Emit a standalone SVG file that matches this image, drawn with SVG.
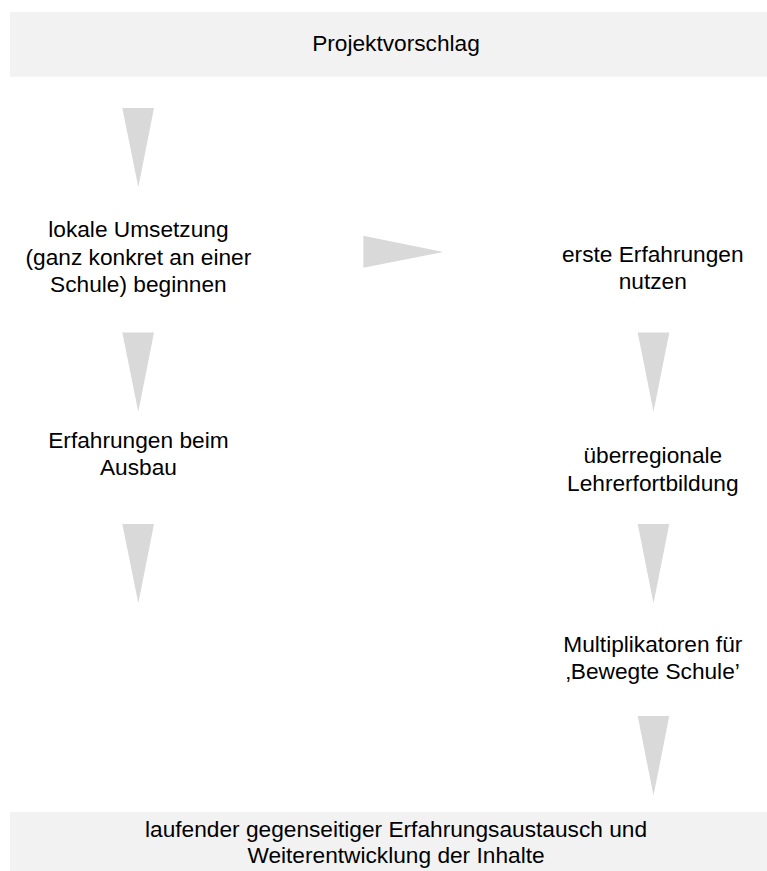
<svg xmlns="http://www.w3.org/2000/svg" width="767" height="871" viewBox="0 0 767 871">
<style>
.bar{fill:#f2f2f2}
.arr{fill:#d9d9d9}
text{font-family:"Liberation Sans",Arial,sans-serif;font-size:22.7px;fill:#000;text-anchor:middle}
</style>
<rect width="767" height="871" fill="#ffffff"/>
<g id="projektvorschlag">
<rect class="bar" x="10" y="12" width="772" height="64.7"/>
<text x="396" y="51">Projektvorschlag</text>
</g>
<g id="lokale-umsetzung">
<text x="138.4" y="237.3">lokale Umsetzung</text>
<text x="138.4" y="264.8">(ganz konkret an einer</text>
<text x="138.4" y="292.3">Schule) beginnen</text>
</g>
<g id="erste-erfahrungen">
<text x="652.8" y="261.5">erste Erfahrungen</text>
<text x="652.8" y="289">nutzen</text>
</g>
<g id="erfahrungen-ausbau">
<text x="138.4" y="447.5">Erfahrungen beim</text>
<text x="138.4" y="474.5">Ausbau</text>
</g>
<g id="ueberregionale">
<text x="652.8" y="463">überregionale</text>
<text x="652.8" y="490.5">Lehrerfortbildung</text>
</g>
<g id="multiplikatoren">
<text x="652.8" y="651.5">Multiplikatoren für</text>
<text x="652.8" y="678.5">‚Bewegte Schule’</text>
</g>
<g id="erfahrungsaustausch">
<rect class="bar" x="10" y="812" width="772" height="59"/>
<text x="396" y="836.7">laufender gegenseitiger Erfahrungsaustausch und</text>
<text x="396" y="863.3">Weiterentwicklung der Inhalte</text>
</g>
<g id="connectors">
<polygon class="arr" points="122.3,108 154,108 138.3,187.3"/>
<polygon class="arr" points="122.3,332.5 154,332.5 138.3,411.7"/>
<polygon class="arr" points="122.3,524 154,524 138.3,603.3"/>
<polygon class="arr" points="363.3,235.7 363.3,267.7 443.3,252"/>
<polygon class="arr" points="637.7,332.5 669.3,332.5 653.5,411.7"/>
<polygon class="arr" points="637.7,524 669.3,524 653.5,603.3"/>
<polygon class="arr" points="637.7,716 669.3,716 653.5,795.5"/>
</g>
</svg>
